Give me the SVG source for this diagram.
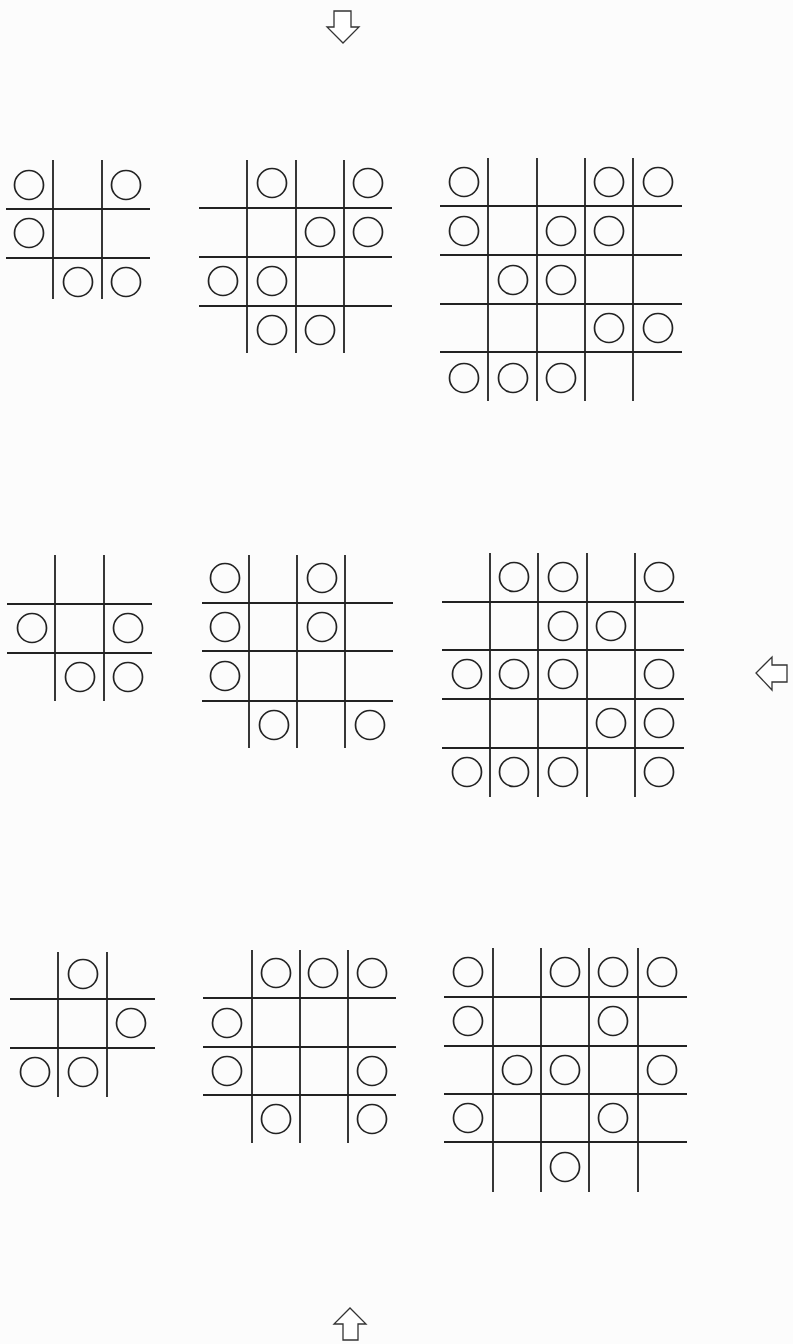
<svg xmlns="http://www.w3.org/2000/svg" width="793" height="1344" viewBox="0 0 793 1344">
<style>
.ln{stroke:#222;stroke-width:1.8;fill:none}
.c{fill:none;stroke:#222;stroke-width:1.7}
.ar{fill:#fff;stroke:#333;stroke-width:1.3;stroke-linejoin:miter}
</style>
<defs>
<circle id="o" r="14.5" class="c"/>
</defs>
<rect width="793" height="1344" fill="#fcfcfc"/>
<g id="grid-1-1">
<path class="ln" d="M53 160V299M102 160V299M6 209H150M6 258H150"/>
<use href="#o" x="29" y="185"/><use href="#o" x="126" y="185"/><use href="#o" x="29" y="233"/><use href="#o" x="78" y="282"/><use href="#o" x="126" y="282"/>
</g>
<g id="grid-1-2">
<path class="ln" d="M247 160V353M296 160V353M344 160V353M199 208H392M199 257H392M199 306H392"/>
<use href="#o" x="272" y="183"/><use href="#o" x="368" y="183"/><use href="#o" x="320" y="232"/><use href="#o" x="368" y="232"/><use href="#o" x="223" y="281"/><use href="#o" x="272" y="281"/><use href="#o" x="272" y="330"/><use href="#o" x="320" y="330"/>
</g>
<g id="grid-1-3">
<path class="ln" d="M488 158V401M537 158V401M585 158V401M633 158V401M440 206H682M440 255H682M440 304H682M440 352H682"/>
<use href="#o" x="464" y="182"/><use href="#o" x="609" y="182"/><use href="#o" x="658" y="182"/>
<use href="#o" x="464" y="231"/><use href="#o" x="561" y="231"/><use href="#o" x="609" y="231"/>
<use href="#o" x="513" y="280"/><use href="#o" x="561" y="280"/>
<use href="#o" x="609" y="328"/><use href="#o" x="658" y="328"/>
<use href="#o" x="464" y="378"/><use href="#o" x="513" y="378"/><use href="#o" x="561" y="378"/>
</g>
<g id="grid-2-1">
<path class="ln" d="M55 555V701M104 555V701M7 604H152M7 653H152"/>
<use href="#o" x="32" y="628"/><use href="#o" x="128" y="628"/><use href="#o" x="80" y="677"/><use href="#o" x="128" y="677"/>
</g>
<g id="grid-2-2">
<path class="ln" d="M249 555V748M297 555V748M345 555V748M202 603H393M202 651H393M202 701H393"/>
<use href="#o" x="225" y="578"/><use href="#o" x="322" y="578"/><use href="#o" x="225" y="627"/><use href="#o" x="322" y="627"/><use href="#o" x="225" y="676"/><use href="#o" x="274" y="725"/><use href="#o" x="370" y="725"/>
</g>
<g id="grid-2-3">
<path class="ln" d="M490 553V797M538 553V797M587 553V797M635 553V797M442 602H684M442 650H684M442 699H684M442 748H684"/>
<use href="#o" x="514" y="577"/><use href="#o" x="563" y="577"/><use href="#o" x="659" y="577"/>
<use href="#o" x="563" y="626"/><use href="#o" x="611" y="626"/>
<use href="#o" x="467" y="674"/><use href="#o" x="514" y="674"/><use href="#o" x="563" y="674"/><use href="#o" x="659" y="674"/>
<use href="#o" x="611" y="723"/><use href="#o" x="659" y="723"/>
<use href="#o" x="467" y="772"/><use href="#o" x="514" y="772"/><use href="#o" x="563" y="772"/><use href="#o" x="659" y="772"/>
</g>
<g id="grid-3-1">
<path class="ln" d="M58 952V1097M107 952V1097M10 999H155M10 1048H155"/>
<use href="#o" x="83" y="974"/><use href="#o" x="131" y="1023"/><use href="#o" x="35" y="1072"/><use href="#o" x="83" y="1072"/>
</g>
<g id="grid-3-2">
<path class="ln" d="M252 950V1143M300 950V1143M348 950V1143M203 998H396M203 1047H396M203 1095H396"/>
<use href="#o" x="276" y="973"/><use href="#o" x="323" y="973"/><use href="#o" x="372" y="973"/><use href="#o" x="227" y="1023"/><use href="#o" x="227" y="1071"/><use href="#o" x="372" y="1071"/><use href="#o" x="276" y="1119"/><use href="#o" x="372" y="1119"/>
</g>
<g id="grid-3-3">
<path class="ln" d="M493 948V1192M541 948V1192M589 948V1192M638 948V1192M444 997H687M444 1046H687M444 1094H687M444 1142H687"/>
<use href="#o" x="468" y="972"/><use href="#o" x="565" y="972"/><use href="#o" x="613" y="972"/><use href="#o" x="662" y="972"/>
<use href="#o" x="468" y="1021"/><use href="#o" x="613" y="1021"/>
<use href="#o" x="517" y="1070"/><use href="#o" x="565" y="1070"/><use href="#o" x="662" y="1070"/>
<use href="#o" x="468" y="1118"/><use href="#o" x="613" y="1118"/>
<use href="#o" x="565" y="1167"/>
</g>
<g id="arrows">
<polygon class="ar" points="334,11 351,11 351,27 359,27 343,43 327,27 334,27"/>
<polygon class="ar" points="787,665 772,665 772,657 756,673 772,690 772,682 787,682"/>
<polygon class="ar" points="343,1340 358,1340 358,1324 366,1324 350,1308 334,1324 343,1324"/>
</g>
</svg>
